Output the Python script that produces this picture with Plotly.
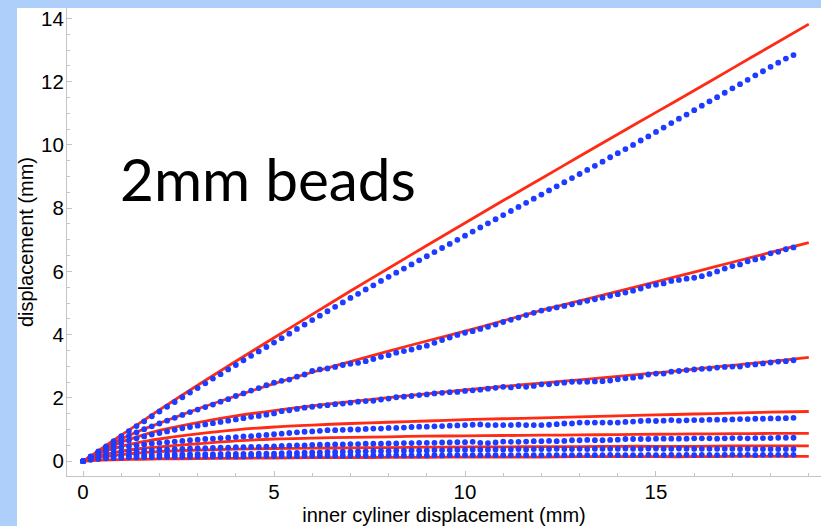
import plotly.graph_objects as go

# Measured displacement sampled every 0.2 mm of inner-cylinder travel
x_data = [round(0.2 * i, 1) for i in range(94)]

data_1 = [0, 0.15, 0.31, 0.47, 0.63, 0.79, 0.95, 1.11, 1.26, 1.42,
          1.57, 1.72, 1.87, 2.02, 2.17, 2.31, 2.46, 2.61, 2.75, 2.90,
          3.04, 3.19, 3.33, 3.47, 3.61, 3.75, 3.89, 4.03, 4.18, 4.32,
          4.46, 4.60, 4.74, 4.88, 5.02, 5.16, 5.29, 5.43, 5.56, 5.70,
          5.83, 5.96, 6.09, 6.22, 6.35, 6.48, 6.61, 6.74, 6.87, 7.00,
          7.13, 7.26, 7.39, 7.52, 7.65, 7.78, 7.91, 8.04, 8.17, 8.30,
          8.43, 8.56, 8.69, 8.82, 8.95, 9.08, 9.21, 9.34, 9.47, 9.61,
          9.74, 9.87, 10.00, 10.14, 10.27, 10.41, 10.55, 10.69, 10.83, 10.96,
          11.10, 11.24, 11.38, 11.51, 11.65, 11.79, 11.92, 12.06, 12.20, 12.33,
          12.47, 12.60, 12.73, 12.84]

data_2 = [0, 0.14, 0.29, 0.43, 0.56, 0.68, 0.80, 0.91, 1.01, 1.10,
          1.19, 1.28, 1.37, 1.46, 1.55, 1.63, 1.71, 1.79, 1.88, 1.96,
          2.06, 2.14, 2.23, 2.31, 2.40,
          2.48, 2.54, 2.58, 2.67, 2.74, 2.85, 2.90, 2.93, 2.98, 3.04,
          3.08, 3.11, 3.16, 3.23, 3.30, 3.35, 3.43, 3.48, 3.53, 3.60,
          3.65, 3.74, 3.83, 3.91, 3.99, 4.06, 4.11,
          4.18, 4.25, 4.32, 4.40, 4.47, 4.54, 4.62, 4.69, 4.76, 4.81,
          4.86, 4.91, 4.96, 5.02, 5.07, 5.12, 5.17, 5.23, 5.28, 5.33, 5.39,
          5.46, 5.54, 5.58, 5.62, 5.70, 5.73, 5.77, 5.80, 5.85, 5.92,
          6.00, 6.09, 6.17, 6.22, 6.32, 6.38, 6.43, 6.57, 6.62, 6.70, 6.76]

data_3 = [0, 0.13, 0.26, 0.38, 0.48, 0.57, 0.65, 0.72, 0.78, 0.84,
          0.89, 0.94, 0.99, 1.04, 1.08, 1.12, 1.16, 1.20, 1.24, 1.28,
          1.32, 1.36, 1.40, 1.43, 1.47,
          1.51, 1.58, 1.61, 1.65, 1.69, 1.72, 1.75, 1.77, 1.80, 1.82,
          1.85, 1.88, 1.90, 1.91, 1.95, 1.98, 2.02, 2.04, 2.06, 2.09,
          2.11, 2.14, 2.16, 2.18, 2.19, 2.22, 2.24,
          2.26, 2.29, 2.32, 2.35, 2.33, 2.37, 2.35, 2.38, 2.43, 2.43,
          2.46, 2.48, 2.51, 2.51, 2.51, 2.52, 2.53, 2.55, 2.59, 2.62, 2.64,
          2.67, 2.74, 2.77, 2.77, 2.83, 2.85, 2.88, 2.90, 2.92, 2.93,
          2.96, 2.98, 2.99, 2.99, 3.04, 3.06, 3.09, 3.12, 3.15, 3.16, 3.19]

data_4 = [0, 0.12, 0.23, 0.31, 0.38, 0.43, 0.47, 0.50, 0.53, 0.56,
          0.58, 0.60, 0.62, 0.64, 0.66, 0.68, 0.70, 0.71, 0.73, 0.74,
          0.76, 0.78, 0.79, 0.81, 0.83,
          0.85, 0.87, 0.89, 0.91, 0.93, 0.94, 0.96, 0.98, 0.98, 0.99,
          1.00, 1.00, 1.02, 1.03, 1.03, 1.05, 1.05, 1.06, 1.08, 1.09,
          1.09, 1.10, 1.11, 1.12, 1.13, 1.14, 1.15, 1.16, 1.14, 1.14,
          1.14, 1.14, 1.15, 1.14, 1.14, 1.14, 1.15, 1.17, 1.19, 1.19,
          1.22, 1.22, 1.22, 1.22, 1.22, 1.22, 1.24, 1.25, 1.27, 1.28,
          1.27, 1.28, 1.30, 1.28, 1.29, 1.30, 1.30, 1.31, 1.31, 1.31,
          1.32, 1.33, 1.33, 1.34, 1.34, 1.35, 1.35, 1.36, 1.37]

data_5 = [0, 0.10, 0.17, 0.22, 0.26, 0.29, 0.31, 0.33, 0.34, 0.35,
          0.36, 0.37, 0.38, 0.39, 0.40, 0.41, 0.41, 0.42, 0.43, 0.43,
          0.44, 0.44, 0.45, 0.45, 0.46,
          0.47, 0.48, 0.49, 0.50, 0.50, 0.51, 0.52, 0.52, 0.53, 0.53,
          0.54, 0.54, 0.55, 0.55, 0.55, 0.56, 0.56, 0.57, 0.57, 0.58,
          0.58, 0.58, 0.59, 0.59, 0.60, 0.60, 0.61, 0.58, 0.57, 0.59,
          0.62, 0.61, 0.61, 0.62, 0.63, 0.63, 0.64, 0.63, 0.64, 0.66,
          0.66, 0.67, 0.66, 0.66, 0.67, 0.68, 0.70, 0.70, 0.70, 0.70,
          0.71, 0.71, 0.71, 0.71, 0.71, 0.72, 0.72, 0.72, 0.71, 0.72,
          0.73, 0.73, 0.72, 0.73, 0.73, 0.73, 0.74, 0.74, 0.74]

data_6 = [0, 0.07, 0.11, 0.14, 0.16, 0.17, 0.18, 0.19, 0.19, 0.20,
          0.20, 0.21, 0.21, 0.21, 0.22, 0.22, 0.22, 0.22, 0.23, 0.23,
          0.23, 0.23, 0.23, 0.24, 0.24,
          0.24, 0.25, 0.26, 0.26, 0.27, 0.28, 0.28, 0.29, 0.29, 0.30,
          0.30, 0.31, 0.31, 0.32, 0.32, 0.32, 0.33, 0.33, 0.34, 0.34,
          0.34, 0.35, 0.35, 0.35, 0.36, 0.36, 0.37, 0.36, 0.36, 0.37,
          0.37, 0.37, 0.38, 0.37, 0.38, 0.38, 0.38, 0.39, 0.38, 0.38,
          0.39, 0.38, 0.39, 0.39, 0.39, 0.39, 0.40, 0.39, 0.39, 0.40,
          0.40, 0.39, 0.39, 0.40, 0.39, 0.39, 0.39, 0.39, 0.39, 0.39,
          0.39, 0.38, 0.39, 0.38, 0.38, 0.38, 0.38, 0.38, 0.38]

data_7 = [0, 0.04, 0.07, 0.09, 0.10, 0.11, 0.12, 0.12, 0.13, 0.13,
          0.13, 0.14, 0.14, 0.14, 0.14, 0.15, 0.15, 0.15, 0.15, 0.15,
          0.15, 0.15, 0.16, 0.16, 0.16,
          0.16, 0.16, 0.16, 0.16, 0.17, 0.17, 0.17, 0.17, 0.17, 0.17,
          0.17, 0.18, 0.17, 0.18, 0.18, 0.18, 0.18, 0.18, 0.18, 0.18,
          0.18, 0.19, 0.18, 0.19, 0.19, 0.19, 0.19, 0.19, 0.19, 0.19,
          0.19, 0.19, 0.19, 0.19, 0.19, 0.19, 0.19, 0.19, 0.19, 0.19,
          0.19, 0.19, 0.19, 0.19, 0.20, 0.19, 0.19, 0.19, 0.19, 0.20,
          0.19, 0.19, 0.20, 0.19, 0.20, 0.19, 0.20, 0.20, 0.19, 0.20,
          0.20, 0.20, 0.20, 0.19, 0.20, 0.20, 0.20, 0.20, 0.20]

# Model curves
x_model = [0, 0.25, 0.5, 1, 1.5, 2, 3, 4, 5, 6, 7, 8, 9, 10,
           11, 12, 13, 14, 15, 16, 17, 18, 19]

model_1 = [0, 0.20, 0.41, 0.82, 1.22, 1.62, 2.40, 3.16, 3.90, 4.64, 5.38, 6.10,
           6.82, 7.53, 8.24, 8.94, 9.64, 10.34, 11.03, 11.72, 12.42, 13.12, 13.82]
model_2 = [0, 0.19, 0.37, 0.70, 0.97, 1.20, 1.65, 2.06, 2.45, 2.81, 3.15, 3.48,
           3.80, 4.11, 4.44, 4.77, 5.07, 5.37, 5.67, 5.98, 6.29, 6.60, 6.91]
model_3 = [0, 0.17, 0.33, 0.60, 0.80, 0.97, 1.22, 1.43, 1.60, 1.75, 1.88, 2.01,
           2.13, 2.25, 2.36, 2.47, 2.57, 2.68, 2.79, 2.91, 3.03, 3.15, 3.28]
model_4 = [0, 0.15, 0.28, 0.47, 0.60, 0.70, 0.86, 0.99, 1.08, 1.14, 1.19, 1.23,
           1.27, 1.31, 1.34, 1.37, 1.40, 1.43, 1.46, 1.49, 1.52, 1.55, 1.57]
model_5 = [0, 0.10, 0.19, 0.32, 0.40, 0.45, 0.55, 0.64, 0.70, 0.73, 0.75, 0.77,
           0.79, 0.80, 0.81, 0.82, 0.83, 0.84, 0.85, 0.86, 0.87, 0.875, 0.88]
model_6 = [0, 0.07, 0.13, 0.21, 0.26, 0.30, 0.35, 0.38, 0.40, 0.41, 0.42, 0.43,
           0.44, 0.45, 0.45, 0.46, 0.46, 0.47, 0.47, 0.47, 0.48, 0.48, 0.48]
model_7 = [0, 0.02, 0.03, 0.05, 0.06, 0.07, 0.08, 0.09, 0.10, 0.11, 0.11, 0.12,
           0.12, 0.13, 0.13, 0.13, 0.14, 0.14, 0.14, 0.14, 0.15, 0.15, 0.15]

measured = [data_1, data_2, data_3, data_4, data_5, data_6, data_7]
models = [model_1, model_2, model_3, model_4, model_5, model_6, model_7]

x_ticks = [0, 5, 10, 15]
y_ticks = [0, 2, 4, 6, 8, 10, 12, 14]

RED = "#ff2b14"
BLUE = "#1e3cff"
AXIS = "#c4c4c4"
SLIDE = "#aecffa"

fig = go.Figure()

for m in models:
    fig.add_trace(go.Scatter(x=x_model, y=m, mode="lines",
                             line=dict(color=RED, width=2.8, shape="spline", smoothing=0.8),
                             hoverinfo="skip", showlegend=False))

for d in measured:
    fig.add_trace(go.Scatter(x=x_data, y=d, mode="markers",
                             marker=dict(color=BLUE, size=5.8, line=dict(width=0)),
                             showlegend=False))

tick_font = dict(family="Liberation Sans, Arial, sans-serif", size=20.5, color="black")
title_font = dict(family="Liberation Sans, Arial, sans-serif", size=20, color="black")

fig.update_layout(
    width=821, height=526,
    margin=dict(l=67, r=0, t=8, b=50),
    paper_bgcolor=SLIDE,
    plot_bgcolor="white",
    font=tick_font,
    shapes=[dict(type="rect", xref="paper", yref="paper",
                 x0=-50 / 754, x1=1.0, y0=-0.2, y1=1.0,
                 fillcolor="white", line=dict(width=0), layer="below")],
    annotations=[dict(text="2mm beads", xref="paper", yref="paper",
                      x=0.068, y=0.636, xanchor="left", yanchor="middle",
                      showarrow=False,
                      font=dict(family="Lato, sans-serif", size=58.5, color="black"))],
)

fig.update_xaxes(
    range=[-0.42, 19.32], showline=True, linecolor=AXIS, linewidth=1,
    ticks="inside", ticklen=5, tickcolor=AXIS, tickwidth=1,
    tickvals=x_ticks, tickfont=tick_font, ticklabelstandoff=-3,
    minor=dict(dtick=1, ticks="inside", ticklen=3, tickcolor=AXIS, showgrid=False),
    showgrid=False, zeroline=False,
    title=dict(text="inner cyliner displacement (mm)", font=title_font, standoff=7),
)
fig.update_yaxes(
    range=[-0.47, 14.33], showline=True, linecolor=AXIS, linewidth=1,
    ticks="inside", ticklen=5, tickcolor=AXIS, tickwidth=1,
    tickvals=y_ticks, tickfont=tick_font, ticklabelstandoff=-2,
    minor=dict(dtick=0.5, ticks="inside", ticklen=3, tickcolor=AXIS, showgrid=False),
    showgrid=False, zeroline=False,
    title=dict(text="displacement (mm)", font=title_font, standoff=2),
)

fig.write_html("out.html")
